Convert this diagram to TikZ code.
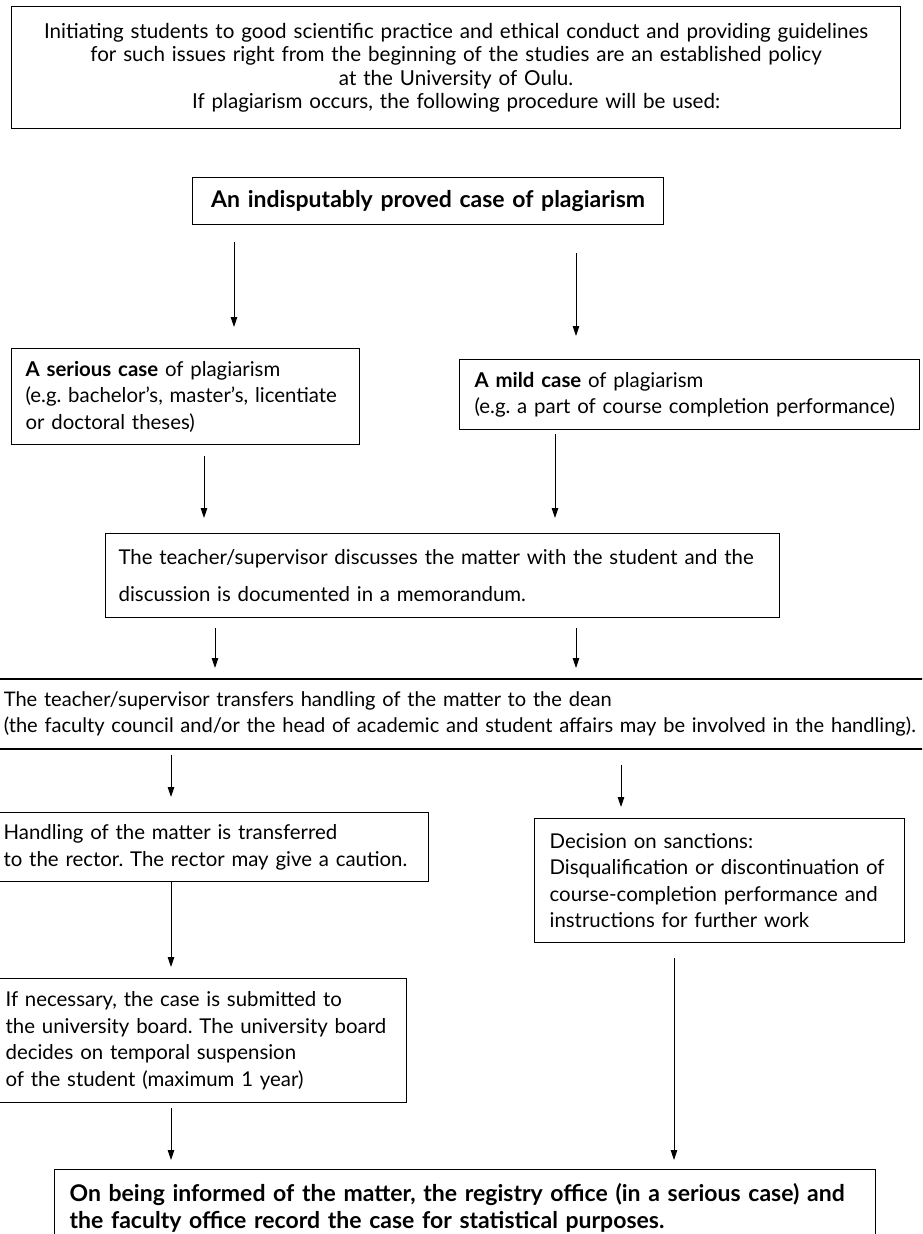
\documentclass[tikz,border=0pt]{standalone}
\usepackage{fontspec}
\setmainfont{Lato}
\usetikzlibrary{arrows.meta}
\tikzset{
  box/.style={draw=black, line width=1.2pt, anchor=north west, inner ysep=0pt, align=left,
    font=\fontsize{20.4}{26.5}\selectfont},
  arr/.style={line width=0.9pt, -{Triangle[length=10pt,width=6.5pt]}},
}
\begin{document}
\frenchspacing
\begin{tikzpicture}[x=1pt,y=-1pt]
\useasboundingbox (0,0) rectangle (922,1234);
\clip (0,0) rectangle (922,1234);
\fill[white] (0,0) rectangle (922,1234);

\node[box, align=center, inner xsep=10pt, text width=869pt, minimum height=122pt,
  font=\fontsize{20.6}{23.5}\selectfont] (intro) at (11,6)
  {\mbox{Initiating students to good scientific practice and ethical conduct and providing guidelines}\\
   for such issues right from the beginning of the studies are an established policy\\
   at the University of Oulu.\\
   If plagiarism occurs, the following procedure will be used:};

\node[box, align=center, inner xsep=10pt, text width=451pt, minimum height=47pt,
  font=\fontsize{23}{26}\selectfont\bfseries] (ind) at (192,177)
  {An indisputably proved case of plagiarism};

\node[box, inner xsep=14pt, text width=320pt, minimum height=96pt] (ser) at (11,348)
  {\mbox{\textbf{A serious case} of plagiarism}\\
   \mbox{(e.g. bachelor's, master's, licentiate}\\
   \mbox{or doctoral theses)}};

\node[box, inner xsep=15pt, text width=430pt, minimum height=70pt] (mild) at (459,359)
  {\mbox{\textbf{A mild case} of plagiarism}\\
   \mbox{(e.g. a part of course completion performance)}};

\node[box, inner xsep=13pt, text width=648pt, minimum height=84pt,
  font=\fontsize{20.4}{37}\selectfont] (disc) at (105,533)
  {\mbox{The teacher/supervisor discusses the matter with the student and the}\\
   \mbox{discussion is documented in a memorandum.}};

\node[box, inner xsep=13pt, text width=974pt, minimum height=70pt, line width=1.6pt,
  font=\fontsize{20.1}{26.5}\selectfont] (dean) at (-10,678)
  {\mbox{The teacher/supervisor transfers handling of the matter to the dean}\\
   \mbox{(the faculty council and/or the head of academic and student affairs may be involved in the handling).}};

\node[box, inner xsep=13pt, text width=412pt, minimum height=69pt] (rect) at (-10,812)
  {\mbox{Handling of the matter is transferred}\\
   \mbox{to the rector. The rector may give a caution.}};

\node[box, inner xsep=15pt, text width=340pt, minimum height=124pt] (dec) at (534,818)
  {\mbox{Decision on sanctions:}\\
   \mbox{Disqualification or discontinuation of}\\
   \mbox{course-completion performance and}\\
   \mbox{instructions for further work}};

\node[box, inner xsep=15pt, text width=386pt, minimum height=124pt] (board) at (-10,978)
  {\mbox{If necessary, the case is submitted to}\\
   \mbox{the university board. The university board}\\
   \mbox{decides on temporal suspension}\\
   \mbox{of the student (maximum 1 year)}};

\node[box, inner xsep=15pt, text width=791pt, minimum height=76pt,
  font=\fontsize{23}{27}\selectfont\bfseries] (rec) at (54,1169)
  {\mbox{On being informed of the matter, the registry office (in a serious case) and}\\
   \mbox{the faculty office record the case for statistical purposes.}};

\coordinate (c1) at (234,0);
\coordinate (c2) at (576,0);
\coordinate (c3) at (204,0);
\coordinate (c4) at (555,0);
\coordinate (c5) at (215,0);
\coordinate (c6) at (576,0);
\coordinate (c7) at (171,0);
\coordinate (c8) at (621,0);
\coordinate (c9) at (674,0);

\draw[arr, shorten <=17pt, shorten >=21pt] (ind.south -| c1) -- (ser.north -| c1);
\draw[arr, shorten <=28pt, shorten >=23pt] (ind.south -| c2) -- (mild.north -| c2);
\draw[arr, shorten <=11pt, shorten >=15pt] (ser.south -| c3) -- (disc.north -| c3);
\draw[arr, shorten <=4pt, shorten >=15pt] (mild.south -| c4) -- (disc.north -| c4);
\draw[arr, shorten <=10pt, shorten >=10pt] (disc.south -| c5) -- (dean.north -| c5);
\draw[arr, shorten <=10pt, shorten >=10pt] (disc.south -| c6) -- (dean.north -| c6);
\draw[arr, shorten <=5pt, shorten >=15pt] (dean.south -| c7) -- (rect.north -| c7);
\draw[arr, shorten <=15pt, shorten >=11pt] (dean.south -| c8) -- (dec.north -| c8);
\draw[arr, shorten >=11pt] (rect.south -| c7) -- (board.north -| c7);
\draw[arr, shorten <=5pt, shorten >=9pt] (board.south -| c7) -- (rec.north -| c7);
\draw[arr, shorten <=15pt, shorten >=9pt] (dec.south -| c9) -- (rec.north -| c9);
\end{tikzpicture}
\end{document}
